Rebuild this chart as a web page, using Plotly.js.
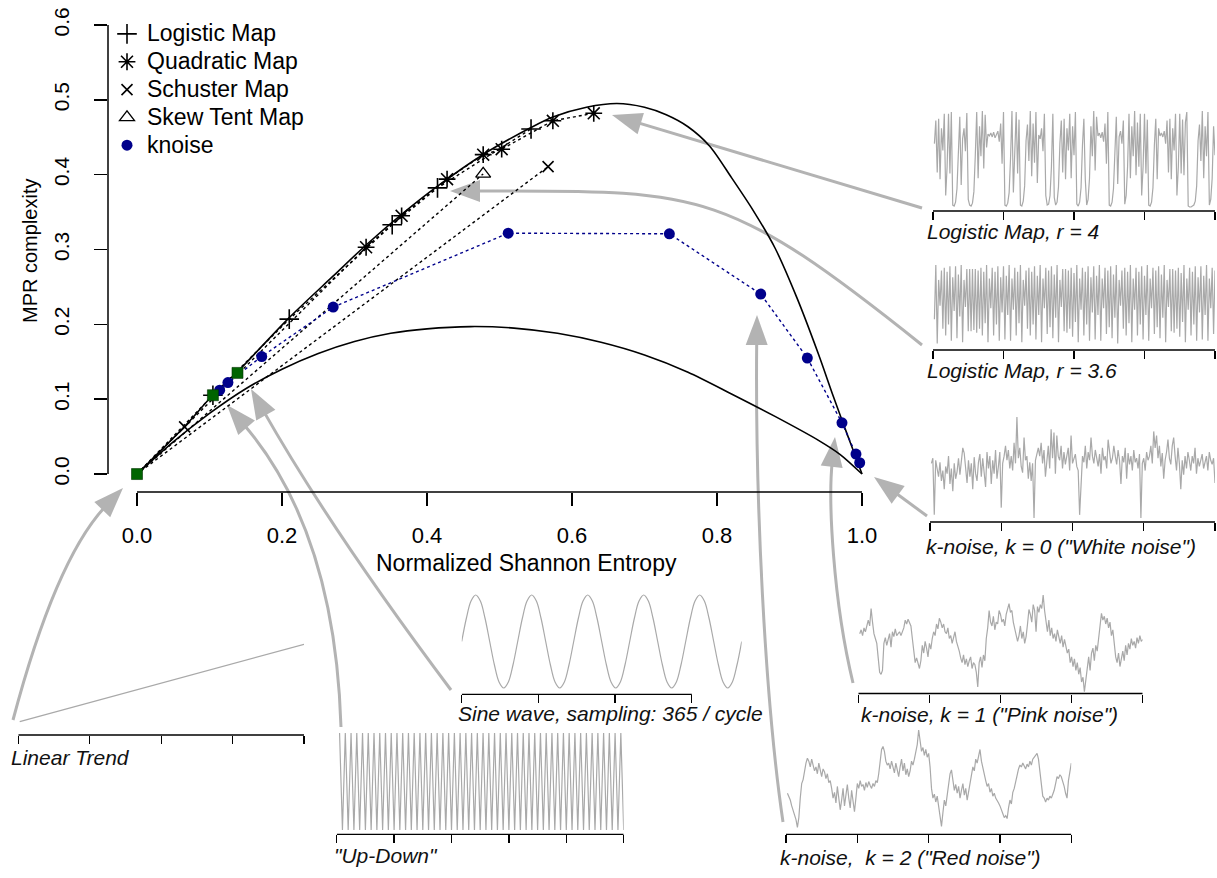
<!DOCTYPE html>
<html><head><meta charset="utf-8">
<script src="https://cdn.plot.ly/plotly-3.0.1.min.js"></script>
<style>html,body{margin:0;padding:0;background:#fff}#chart{width:1217px;height:878px}</style>
</head><body><div id="chart"></div>
<script>
const W = 1217, H = 878;
const FONT = 'Liberation Sans, Arial, Helvetica, sans-serif';

// ---------- main plane data ----------
const maxH = [0, 0.0657, 0.1047, 0.139, 0.21, 0.27, 0.316, 0.365, 0.415, 0.4775, 0.5435, 0.5736, 0.62, 0.662, 0.70, 0.73, 0.76, 0.79, 0.82, 0.85, 0.88, 0.91, 0.94, 0.96, 0.98, 0.99, 1.0];
const maxC = [0, 0.0635, 0.1056, 0.137, 0.209, 0.264, 0.306, 0.347, 0.385, 0.427, 0.463, 0.477, 0.490, 0.495, 0.490, 0.480, 0.464, 0.438, 0.396, 0.352, 0.302, 0.236, 0.160, 0.105, 0.052, 0.026, 0];
const minH = [0, 0.05, 0.10, 0.15, 0.20, 0.25, 0.30, 0.35, 0.40, 0.46, 0.52, 0.58, 0.64, 0.70, 0.76, 0.82, 0.88, 0.94, 0.97, 1.0];
const minC = [0, 0.043, 0.081, 0.114, 0.140, 0.161, 0.177, 0.188, 0.194, 0.197, 0.195, 0.188, 0.176, 0.159, 0.136, 0.107, 0.077, 0.045, 0.026, 0];

const logisticH = [0, 0.1047, 0.210, 0.352, 0.4145, 0.5435];
const logisticC = [0, 0.1053, 0.207, 0.333, 0.3823, 0.461];
const quadraticH = [0, 0.316, 0.365, 0.4277, 0.4775, 0.503, 0.5736, 0.630];
const quadraticC = [0, 0.303, 0.345, 0.394, 0.4267, 0.434, 0.472, 0.482];
const schusterH = [0.0657, 0, 0.567];
const schusterC = [0.0631, 0, 0.4107];
const skewTentH = [0, 0.4775];
const skewTentC = [0, 0.401];
const knoiseH = [0.9968, 0.9917, 0.9724, 0.9246, 0.8603, 0.7343, 0.512, 0.2706, 0.172, 0.1254, 0.114];
const knoiseC = [0.0151, 0.0267, 0.0684, 0.155, 0.2404, 0.321, 0.3218, 0.2231, 0.157, 0.1222, 0.112];
const specialH = [0, 0.1047, 0.1386];
const specialC = [0, 0.1053, 0.1351];

const xTicks = [0, 0.2, 0.4, 0.6, 0.8, 1.0];
const xTickText = ['0.0', '0.2', '0.4', '0.6', '0.8', '1.0'];
const yTicks = [0, 0.1, 0.2, 0.3, 0.4, 0.5, 0.6];
const yTickText = ['0.0', '0.1', '0.2', '0.3', '0.4', '0.5', '0.6'];

// ---------- inset series ----------
const logistic4 = [
0.66,0.90,0.36,0.92,0.29,0.82,0.59,0.97,0.12,0.42,
0.97,0.35,0.99,0.02,0.01,0.05,0.19,0.62,0.94,0.23,
0.71,0.82,0.58,0.98,0.08,0.02,0.01,0.04,0.16,0.54,
0.99,0.30,0.84,0.53,1.00,0.40,0.96,0.62,0.76,0.74,
0.77,0.73,0.78,0.72,0.76,0.79,0.68,0.87,0.45,0.99,
0.02,0.01,0.04,0.15,0.51,1.00,0.15,0.52,0.99,0.35,
0.91,0.02,0.01,0.06,0.22,0.69,0.86,0.48,1.00,0.32,
0.87,0.46,0.99,0.25,0.75,0.71,0.82,0.58,0.97,0.12,
0.02,0.03,0.12,0.42,0.97,0.10,0.02,0.05,0.21,0.66,
0.90,0.36,0.92,0.29,0.82,0.59,0.97,0.30,0.84,0.54,
0.99,0.03,0.01,0.05,0.20,0.64,0.92,0.29,0.02,0.08,
0.30,0.84,0.53,1.00,0.38,0.94,0.74,0.77,0.72,0.78,
0.68,0.87,0.45,0.99,0.02,0.01,0.05,0.19,0.62,0.94,
0.24,0.73,0.79,0.66,0.90,0.03,0.12,0.42,0.97,0.30,
0.84,0.53,1.00,0.33,0.88,0.42,0.97,0.12,0.42,0.97,
0.35,0.91,0.02,0.01,0.05,0.20,0.64,0.92,0.29,0.82,
0.74,0.77,0.73,0.79,0.66,0.90,0.36,0.92,0.29,0.82,
0.59,0.97,0.12,0.42,0.97,0.35,0.91,0.33,0.88,0.99,
0.01,0.00,0.00,0.01,0.02,0.06,0.22,0.69,0.86,0.48,
1.00,0.30,0.84,0.53,0.99,0.02,0.08,0.30,0.84,0.54];

const logistic36 = [
0.50,0.90,0.32,0.79,0.60,0.86,0.43,0.88,0.38,0.85,
0.46,0.89,0.34,0.81,0.56,0.89,0.36,0.83,0.52,0.90,
0.33,0.79,0.59,0.87,0.41,0.87,0.41,0.87,0.42,0.87,
0.40,0.86,0.43,0.88,0.38,0.85,0.47,0.90,0.33,0.80,
0.58,0.88,0.38,0.85,0.46,0.89,0.34,0.81,0.55,0.89,
0.35,0.82,0.53,0.90,0.34,0.80,0.57,0.88,0.38,0.85,
0.47,0.90,0.33,0.79,0.60,0.86,0.43,0.88,0.38,0.85,
0.46,0.89,0.35,0.82,0.53,0.90,0.33,0.80,0.58,0.88,
0.39,0.86,0.44,0.89,0.36,0.83,0.51,0.90,0.33,0.79,
0.59,0.87,0.41,0.87,0.40,0.86,0.43,0.88,0.37,0.84,
0.48,0.90,0.33,0.80,0.57,0.88,0.38,0.85,0.46,0.89,
0.34,0.81,0.55,0.89,0.35,0.82,0.53,0.90,0.34,0.80,
0.58,0.88,0.39,0.86,0.44,0.89,0.36,0.83,0.51,0.90,
0.32,0.79,0.60,0.86,0.43,0.88,0.38,0.85,0.47,0.90,
0.33,0.80,0.57,0.88,0.38,0.85,0.46,0.89,0.35,0.82,
0.53,0.90,0.34,0.80,0.58,0.88,0.39,0.86,0.44,0.89,
0.36,0.83,0.51,0.90,0.33,0.79,0.59,0.87,0.41,0.87,
0.40,0.86,0.43,0.88,0.37,0.84,0.48,0.90,0.33,0.80,
0.57,0.88,0.38,0.85,0.46,0.89,0.34,0.81,0.55,0.89,
0.35,0.82,0.53,0.90,0.34,0.80,0.58,0.88,0.39,0.86];

const whiteNoise = [
0.55,0.60,0.05,0.58,0.50,0.42,0.56,0.38,0.48,0.30,
0.52,0.45,0.62,0.35,0.50,0.28,0.55,0.40,0.47,0.60,
0.44,0.58,0.70,0.65,0.52,0.36,0.58,0.42,0.55,0.30,
0.61,0.45,0.38,0.56,0.64,0.42,0.60,0.48,0.32,0.66,
0.50,0.62,0.35,0.58,0.45,0.68,0.40,0.52,0.66,0.12,
0.55,0.62,0.72,0.58,0.68,0.50,0.62,0.48,0.75,0.55,
1.00,0.60,0.70,0.52,0.46,0.80,0.58,0.62,0.40,0.56,
0.38,0.55,0.02,0.58,0.64,0.70,0.62,0.75,0.55,0.68,
0.42,0.60,0.72,0.50,0.88,0.60,0.85,0.45,0.82,0.62,
0.58,0.72,0.50,0.66,0.54,0.62,0.70,0.48,0.82,0.55,
0.60,0.64,0.52,0.48,0.05,0.40,0.62,0.56,0.72,0.50,
0.66,0.58,0.80,0.62,0.55,0.68,0.60,0.52,0.64,0.45,
0.70,0.58,0.62,0.50,0.78,0.66,0.55,0.60,0.72,0.62,
0.54,0.68,0.58,0.35,0.62,0.56,0.70,0.40,0.65,0.54,
0.62,0.48,0.68,0.56,0.60,0.50,0.64,0.02,0.55,0.60,
0.48,0.66,0.58,0.62,0.72,0.55,0.86,0.70,0.82,0.60,
0.72,0.52,0.65,0.40,0.58,0.66,0.78,0.60,0.54,0.72,
0.80,0.62,0.48,0.70,0.55,0.30,0.58,0.44,0.62,0.50,
0.66,0.58,0.48,0.62,0.55,0.70,0.45,0.60,0.52,0.58,
0.64,0.50,0.56,0.62,0.48,0.66,0.58,0.54,0.60,0.36];

const pinkNoise = [
0.60,0.64,0.58,0.66,0.62,0.70,0.74,0.68,0.86,0.72,
0.60,0.55,0.50,0.35,0.20,0.18,0.22,0.50,0.56,0.48,
0.55,0.60,0.46,0.62,0.57,0.65,0.58,0.60,0.62,0.58,
0.63,0.66,0.74,0.70,0.75,0.72,0.68,0.55,0.42,0.30,
0.35,0.28,0.24,0.32,0.48,0.40,0.52,0.45,0.36,0.50,
0.44,0.55,0.62,0.58,0.70,0.65,0.76,0.72,0.66,0.70,
0.62,0.60,0.66,0.55,0.58,0.50,0.56,0.62,0.52,0.48,
0.42,0.35,0.30,0.38,0.28,0.34,0.26,0.32,0.36,0.24,
0.30,0.28,0.20,0.05,0.30,0.36,0.25,0.38,0.32,0.55,
0.66,0.84,0.72,0.68,0.78,0.64,0.72,0.70,0.84,0.80,
0.72,0.75,0.68,0.80,0.86,0.91,0.82,0.84,0.72,0.66,
0.60,0.52,0.58,0.68,0.55,0.62,0.50,0.57,0.70,0.85,
0.80,0.72,0.90,0.84,0.62,0.88,0.82,0.90,0.86,1.00,
0.84,0.70,0.62,0.74,0.58,0.66,0.55,0.60,0.52,0.64,
0.56,0.50,0.58,0.46,0.54,0.48,0.40,0.44,0.30,0.36,
0.26,0.34,0.22,0.30,0.18,0.25,0.10,0.15,0.00,0.12,
0.28,0.36,0.22,0.40,0.45,0.32,0.48,0.42,0.55,0.68,
0.81,0.74,0.78,0.70,0.76,0.66,0.72,0.58,0.64,0.50,
0.36,0.30,0.40,0.26,0.35,0.42,0.32,0.48,0.38,0.50,
0.44,0.55,0.48,0.52,0.45,0.56,0.50,0.58,0.52,0.54];

const redNoise = [
0.35,0.32,0.28,0.22,0.18,0.12,0.08,0.00,0.10,0.30,
0.45,0.49,0.58,0.66,0.71,0.68,0.62,0.70,0.64,0.58,
0.62,0.55,0.66,0.60,0.52,0.60,0.57,0.50,0.55,0.46,
0.48,0.40,0.30,0.36,0.25,0.42,0.30,0.18,0.28,0.40,
0.22,0.35,0.44,0.30,0.20,0.38,0.25,0.16,0.30,0.45,
0.40,0.48,0.42,0.44,0.38,0.46,0.41,0.47,0.43,0.40,
0.45,0.42,0.48,0.46,0.55,0.70,0.80,0.83,0.78,0.68,
0.64,0.66,0.60,0.68,0.62,0.56,0.66,0.58,0.52,0.62,
0.70,0.58,0.66,0.54,0.60,0.52,0.58,0.68,0.64,0.70,
0.78,0.85,1.00,0.88,0.78,0.82,0.74,0.80,0.72,0.76,
0.62,0.40,0.30,0.34,0.26,0.32,0.20,0.10,0.01,0.15,
0.28,0.22,0.32,0.42,0.55,0.59,0.45,0.38,0.44,0.35,
0.42,0.30,0.38,0.45,0.33,0.40,0.28,0.36,0.45,0.55,
0.62,0.58,0.70,0.66,0.75,0.80,0.68,0.60,0.52,0.48,
0.42,0.45,0.36,0.40,0.32,0.35,0.30,0.28,0.25,0.22,
0.18,0.14,0.10,0.12,0.09,0.20,0.28,0.24,0.36,0.40,
0.48,0.55,0.60,0.64,0.62,0.66,0.63,0.60,0.65,0.62,
0.68,0.64,0.70,0.72,0.74,0.76,0.70,0.55,0.40,0.32,
0.30,0.26,0.30,0.28,0.32,0.30,0.34,0.38,0.45,0.52,
0.50,0.54,0.52,0.48,0.42,0.35,0.30,0.48,0.60,0.66];

const upDown = [
1,0,1,0,1,0,1,0,1,0,1,0,1,0,1,0,1,0,1,0,
1,0,1,0,1,0,1,0,1,0,1,0,1,0,1,0,1,0,1,0,
1,0,1,0,1,0,1,0,1,0,1,0,1,0,1,0,1,0,1,0,
1,0,1,0,1,0,1,0,1,0,1,0,1,0,1,0,1,0,1,0,
1,0,1,0,1,0,1,0,1,0,1,0,1,0,1,0,1,0,1,0];

// sine wave, 5 cycles, read at 12 points per cycle
const sineWave = [
0,0.5,0.87,1,0.87,0.5,0,-0.5,-0.87,-1,-0.87,-0.5,
0,0.5,0.87,1,0.87,0.5,0,-0.5,-0.87,-1,-0.87,-0.5,
0,0.5,0.87,1,0.87,0.5,0,-0.5,-0.87,-1,-0.87,-0.5,
0,0.5,0.87,1,0.87,0.5,0,-0.5,-0.87,-1,-0.87,-0.5,
0,0.5,0.87,1,0.87,0.5,0,-0.5,-0.87,-1,-0.87,-0.5,
0];
const sineStep = 365 / 12;

const linearX = [1, 200];
const linearY = [0, 1];

// ---------- helpers ----------
const fx = p => p / W;
const fy = p => 1 - p / H;

const traces = [];
const hs = {hoverinfo: 'skip', showlegend: false};

// main curves
traces.push(Object.assign({x: maxH, y: maxC, mode: 'lines', line: {color: '#000', width: 1.6, shape: 'spline', smoothing: 0.8}}, hs));
traces.push(Object.assign({x: minH, y: minC, mode: 'lines', line: {color: '#000', width: 1.6, shape: 'spline', smoothing: 0.8}}, hs));

const dotLine = {color: '#000', width: 1.4, dash: 'dot'};
const mk = {
  logistic: {symbol: 'cross-thin-open', size: 14, color: '#000', line: {width: 1.6, color: '#000'}},
  quadratic: {symbol: 'asterisk-open', size: 14, color: '#000', line: {width: 1.6, color: '#000'}},
  schuster: {symbol: 'x-thin-open', size: 11, color: '#000', line: {width: 1.6, color: '#000'}},
  skew: {symbol: 'triangle-up-open', size: 13, color: '#000', line: {width: 1.3, color: '#000'}},
  knoise: {symbol: 'circle', size: 11, color: '#00008B'}
};
// dotted connectors (series include the origin state)
[[logisticH, logisticC], [quadraticH, quadraticC], [schusterH, schusterC], [skewTentH, skewTentC]].forEach(([hx, cy]) =>
  traces.push(Object.assign({x: hx, y: cy, mode: 'lines', line: dotLine}, hs)));
// markers (origin state is covered by the trivial-series square)
const nz = (hx, cy) => {
  const o = {x: [], y: []};
  hx.forEach((v, i) => { if (v > 0) { o.x.push(v); o.y.push(cy[i]); } });
  return o;
};
[[logisticH, logisticC, mk.logistic], [quadraticH, quadraticC, mk.quadratic], [schusterH, schusterC, mk.schuster], [skewTentH, skewTentC, mk.skew]]
  .forEach(([hx, cy, m]) => { const p = nz(hx, cy); traces.push(Object.assign({x: p.x, y: p.y, mode: 'markers', marker: m}, hs)); });
traces.push(Object.assign({x: knoiseH, y: knoiseC, mode: 'lines+markers', line: {color: '#00008B', width: 1.4, dash: 'dot'},
  marker: mk.knoise}, hs));
traces.push(Object.assign({x: specialH, y: specialC, mode: 'markers',
  marker: {symbol: 'square', size: 11, color: '#006400', line: {width: 0.6, color: '#003300'}}}, hs));

// legend entries (symbols only)
const legendItems = [
  ['Logistic Map', mk.logistic], ['Quadratic Map', mk.quadratic], ['Schuster Map', mk.schuster],
  ['Skew Tent Map', mk.skew], ['knoise', mk.knoise]
];
legendItems.forEach(([name, m]) => traces.push({x: [null], y: [null], mode: 'markers',
  name: '<span style="font-size:23px">' + name + '</span>', marker: m, showlegend: true, hoverinfo: 'skip'}));

// ---------- insets ----------
const GREY = '#a9a9a9';
const insets = [
  {id: 2, y: logistic4, x0: 1, dx: 1, xd: [933, 1215], xr: [0, 200], yd: [107, 211], yr: [-0.0417, 1.0417], tv: [0, 50, 100, 150, 200]},
  {id: 3, y: logistic36, x0: 1, dx: 1, xd: [933, 1215], xr: [0, 200], yd: [261, 350], yr: [0.2723, 0.9295], tv: [0, 50, 100, 150, 200]},
  {id: 4, y: whiteNoise, x0: 1, dx: 1, xd: [930, 1215], xr: [0, 200], yd: [413, 522], yr: [-0.0194, 1.0388], tv: [0, 50, 100, 150, 200]},
  {id: 5, x: linearX, y: linearY, xd: [18.3, 304], xr: [0, 200], yd: [640, 735], yr: [-0.1718, 1.0556], tv: [0, 50, 100, 150, 200]},
  {id: 6, y: upDown, x0: 1, dx: 1, xd: [336.7, 623.7], xr: [0, 100], yd: [729, 834.3], yr: [-0.0443, 1.0412], tv: [0, 20, 40, 60, 80, 100]},
  {id: 7, y: sineWave, x0: 0, dx: sineStep, spline: true, xd: [461.7, 741.7], xr: [0, 1825], yd: [591, 694.3], yr: [-1.1355, 1.086], tv: [0, 500, 1000, 1500]},
  {id: 8, y: pinkNoise, x0: 1, dx: 1, xd: [858.3, 1142.7], xr: [0, 200], yd: [591, 693.5], yr: [-0.0186, 1.0414], tv: [0, 50, 100, 150, 200]},
  {id: 9, y: redNoise, x0: 1, dx: 1, xd: [786, 1071.3], xr: [0, 200], yd: [726, 834.3], yr: [-0.0719, 1.0411], tv: [0, 50, 100, 150, 200]}
];

const layout = {
  width: W, height: H,
  margin: {l: 0, r: 0, t: 0, b: 0},
  paper_bgcolor: '#fff', plot_bgcolor: 'rgba(0,0,0,0)',
  font: {family: FONT, color: '#000'},
  showlegend: true,
  legend: {x: 107 / W, y: fy(15), xanchor: 'left', yanchor: 'top', bgcolor: 'rgba(0,0,0,0)', borderwidth: 0,
    font: {family: FONT, size: 19.1, color: '#000'}, tracegroupgap: 0, itemclick: false, itemdoubleclick: false},
  xaxis: {domain: [108 / W, 891 / W], range: [-0.04, 1.04], tickmode: 'array', tickvals: xTicks, ticktext: xTickText,
    ticks: 'outside', ticklen: 13, tickwidth: 1.5, tickcolor: '#000', showgrid: false, zeroline: false, showline: false,
    tickfont: {family: FONT, size: 22, color: '#000'}, ticklabelstandoff: 11, anchor: 'y', fixedrange: true},
  yaxis: {domain: [1 - 492 / H, 1 - 7 / H], range: [-0.024, 0.624], tickmode: 'array', tickvals: yTicks, ticktext: yTickText,
    ticks: 'outside', ticklen: 13, tickwidth: 1.5, tickcolor: '#000', showgrid: false, zeroline: false, showline: false,
    tickangle: -90, tickfont: {family: FONT, size: 21, color: '#000'}, ticklabelstandoff: 17, anchor: 'x', fixedrange: true},
  shapes: [
    {type: 'line', xref: 'x', yref: 'y domain', x0: 0, x1: 1, y0: 0, y1: 0, line: {color: '#000', width: 1.5}},
    {type: 'line', xref: 'x domain', yref: 'y', x0: 0, x1: 0, y0: 0, y1: 0.6, line: {color: '#000', width: 1.5}}
  ],
  annotations: [
    {xref: 'paper', yref: 'paper', x: fx(526), y: fy(563), text: 'Normalized Shannon Entropy', showarrow: false,
      xanchor: 'center', yanchor: 'middle', font: {family: FONT, size: 23, color: '#000'}},
    {xref: 'paper', yref: 'paper', x: fx(30), y: fy(251), text: 'MPR complexity', showarrow: false, textangle: -90,
      xanchor: 'center', yanchor: 'middle', font: {family: FONT, size: 20, color: '#000'}}
  ]
};

insets.forEach(s => {
  const xa = 'x' + s.id, ya = 'y' + s.id;
  const t = {y: s.y, xaxis: xa, yaxis: ya, mode: 'lines',
    line: {color: GREY, width: 1.2, shape: s.spline ? 'spline' : 'linear'}, hoverinfo: 'skip', showlegend: false};
  if (s.x) t.x = s.x; else { t.x0 = s.x0; t.dx = s.dx; }
  traces.push(t);
  layout['xaxis' + s.id] = {domain: [s.xd[0] / W, s.xd[1] / W], range: s.xr, anchor: ya, tickmode: 'array', tickvals: s.tv,
    ticks: 'outside', ticklen: 8, tickwidth: 1.3, tickcolor: '#000', showticklabels: false, showgrid: false,
    zeroline: false, showline: false, fixedrange: true};
  layout['yaxis' + s.id] = {domain: [1 - s.yd[1] / H, 1 - s.yd[0] / H], range: s.yr, anchor: xa, visible: false, fixedrange: true};
  layout.shapes.push({type: 'line', xref: xa, yref: ya + ' domain', x0: s.tv[0], x1: s.tv[s.tv.length - 1], y0: 0, y1: 0,
    line: {color: '#000', width: 1.3}});
});

// captions
const captions = [
  ['Logistic Map, r = 4', 927, 232],
  ['Logistic Map, r = 3.6', 927, 370],
  ['k-noise, k = 0 ("White noise")', 926, 546],
  ['Linear Trend', 11, 757],
  ['"Up-Down"', 334, 855],
  ['Sine wave, sampling: 365 / cycle', 458, 713],
  ['k-noise, k = 1 ("Pink noise")', 861, 714],
  ['k-noise,\u00a0 k = 2 ("Red noise")', 780, 857]
];
captions.forEach(([txt, x, y]) => layout.annotations.push({xref: 'paper', yref: 'paper', x: fx(x - 2), y: fy(y),
  text: '<i>' + txt + '</i>', showarrow: false, xanchor: 'left', yanchor: 'middle',
  font: {family: FONT, size: 21, color: '#111'}}));

// grey pointer arrows (pixel geometry)
const ARROW = '#b3b3b3';
const arrows = [
  {p0: [922, 208], c: [], tip: [612, 115]},
  {p0: [922, 345], c: [[722, 185], [700, 191]], tip: [450, 191]},
  {p0: [927, 516], c: [], tip: [874, 477]},
  {p0: [853, 683], c: [[833, 600], [828, 500]], tip: [835, 437]},
  {p0: [783, 822], c: [[765, 700], [755, 500]], tip: [757, 315]},
  {p0: [451, 690], c: [[331, 530]], tip: [251, 389]},
  {p0: [341, 727], c: [[335, 530]], tip: [227, 405]},
  {p0: [13, 720], c: [[56, 558]], tip: [123, 488]}
];
const HL = 30, HW = 11;
const P = (p) => fx(p[0]) + ',' + fy(p[1]);
arrows.forEach(a => {
  const prev = a.c.length ? a.c[a.c.length - 1] : a.p0;
  let ux = a.tip[0] - prev[0], uy = a.tip[1] - prev[1];
  const n = Math.hypot(ux, uy); ux /= n; uy /= n;
  const end = [a.tip[0] - ux * (HL - 6), a.tip[1] - uy * (HL - 6)];
  let d = 'M' + P(a.p0);
  if (a.c.length === 0) d += ' L' + P(end);
  else if (a.c.length === 1) d += ' Q' + P(a.c[0]) + ' ' + P(end);
  else d += ' C' + P(a.c[0]) + ' ' + P(a.c[1]) + ' ' + P(end);
  layout.shapes.push({type: 'path', xref: 'paper', yref: 'paper', path: d, layer: 'below',
    line: {color: ARROW, width: 3}});
  const bx = a.tip[0] - ux * HL, by = a.tip[1] - uy * HL;
  const c1 = [bx - uy * HW, by + ux * HW], c2 = [bx + uy * HW, by - ux * HW];
  layout.shapes.push({type: 'path', xref: 'paper', yref: 'paper', layer: 'below',
    path: 'M' + P(a.tip) + ' L' + P(c1) + ' L' + P(c2) + ' Z', fillcolor: ARROW, line: {width: 0}});
});

Plotly.newPlot('chart', traces, layout, {staticPlot: true, displayModeBar: false});
</script>
</body></html>
